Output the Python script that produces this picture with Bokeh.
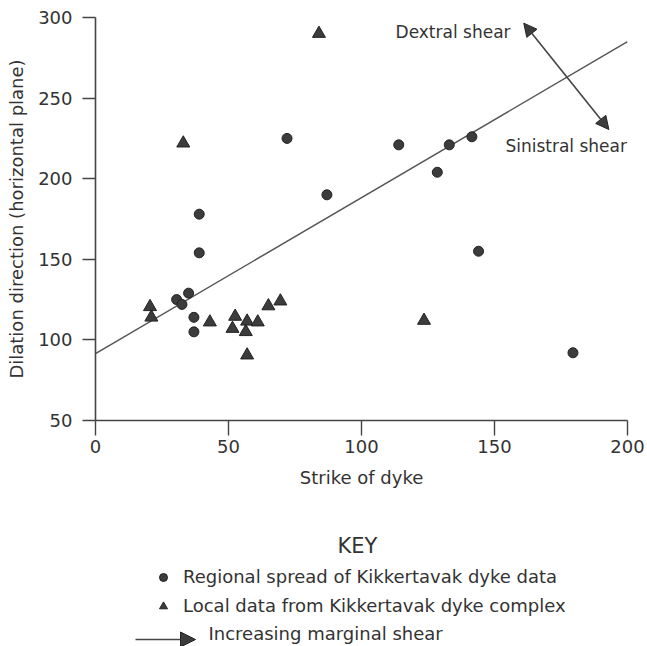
from bokeh.plotting import figure
from bokeh.layouts import column
from bokeh.models import (Range1d, Label, Arrow, NormalHead, Legend, LegendItem,
                          ColumnDataSource, FixedTicker)
from bokeh.embed import file_html
from bokeh.resources import INLINE

# ---------------- data ----------------
regional_strike = [72, 87, 39, 39, 30.5, 32.5, 35, 37, 37, 114, 133, 141.5, 128.5, 144, 179.5]
regional_dilation = [225, 190, 178, 154, 125, 122, 129, 114, 105, 221, 221, 226, 204, 155, 92]

local_strike = [84, 33, 20.5, 21, 43, 52.5, 51.5, 57, 56.5, 61, 57, 65, 69.5, 123.5]
local_dilation = [290, 222, 120.5, 114, 111, 114.5, 107, 111.5, 105, 111, 90.5, 121, 124, 112]

trend_strike = [0, 200]
trend_dilation = [91.5, 285]

shear_arrow_strike = [161, 193]
shear_arrow_dilation = [296.5, 230.5]

x_tick_values = [0, 50, 100, 150, 200]
y_tick_values = [50, 100, 150, 200, 250, 300]

x_label = "Strike of dyke"
y_label = "Dilation direction (horizontal plane)"
key_title = "KEY"
key_labels = ["Regional spread of Kikkertavak dyke data",
              "Local data from Kikkertavak dyke complex",
              "Increasing marginal shear"]

# ---------------- style ----------------
FONT = "DejaVu Sans"
TEXT = "#333333"
INK = "#3c3c3c"
EDGE = "#222222"
LEFT, RIGHT = 95, 20

p = figure(width=647, height=500,
           x_range=Range1d(0, 200), y_range=Range1d(50, 300),
           output_backend="svg", toolbar_location=None,
           min_border_left=LEFT, min_border_right=RIGHT,
           min_border_top=17, min_border_bottom=80)
p.grid.visible = False
p.outline_line_color = None
p.background_fill_color = "white"
p.border_fill_color = "white"

for ax in (p.xaxis[0], p.yaxis[0]):
    ax.axis_line_color = "#444444"
    ax.axis_line_width = 1.6
    ax.major_tick_line_color = "#444444"
    ax.major_tick_line_width = 1.4
    ax.minor_tick_line_color = None
    ax.major_tick_in = 0
    ax.major_label_text_font = FONT
    ax.major_label_text_font_size = "18px"
    ax.major_label_text_color = TEXT
    ax.axis_label_text_font = FONT
    ax.axis_label_text_font_size = "18px"
    ax.axis_label_text_font_style = "normal"
    ax.axis_label_text_color = TEXT

p.xaxis.ticker = FixedTicker(ticks=x_tick_values)
p.yaxis.ticker = FixedTicker(ticks=y_tick_values)
p.xaxis.major_tick_out = 15
p.xaxis.major_label_standoff = 4
p.xaxis.axis_label = x_label
p.xaxis.axis_label_standoff = 11
p.yaxis.major_tick_out = 13
p.yaxis.major_label_standoff = 10
p.yaxis.axis_label = y_label
p.yaxis.axis_label_standoff = 8

# trend line
p.line(trend_strike, trend_dilation, line_color="#555555", line_width=1.5)

# data points
reg_src = ColumnDataSource(dict(x=regional_strike, y=regional_dilation))
loc_src = ColumnDataSource(dict(x=local_strike, y=local_dilation))
circ_style = dict(marker="circle", size=10, fill_color=INK, line_color=EDGE, line_width=1)
tri_style = dict(marker="triangle", size=13, fill_color=INK, line_color=EDGE, line_width=1)
p.scatter("x", "y", source=reg_src, **circ_style)
p.scatter("x", "y", source=loc_src, **tri_style)

# shear arrow (double headed)
p.add_layout(Arrow(x_start=shear_arrow_strike[0], y_start=shear_arrow_dilation[0],
                   x_end=shear_arrow_strike[1], y_end=shear_arrow_dilation[1],
                   line_color="#444444", line_width=1.6,
                   start=NormalHead(size=13, fill_color=INK, line_color=EDGE, line_width=1),
                   end=NormalHead(size=13, fill_color=INK, line_color=EDGE, line_width=1)))

p.add_layout(Label(x=112.8, y=291.3, text="Dextral shear", text_font=FONT,
                   text_font_size="17px", text_color=TEXT,
                   text_align="left", text_baseline="middle"))
p.add_layout(Label(x=154.1, y=220.2, text="Sinistral shear", text_font=FONT,
                   text_font_size="17px", text_color=TEXT,
                   text_align="left", text_baseline="middle"))

# ---------------- key (separate panel below the chart) ----------------
# key panel uses page-pixel-like coordinates: x to the right, -y downward from its top
k = figure(width=647, height=146,
           x_range=Range1d(LEFT, 647 - RIGHT), y_range=Range1d(-146, 0),
           output_backend="svg", toolbar_location=None,
           x_axis_type=None, y_axis_type=None, min_border=0,
           min_border_left=LEFT, min_border_right=RIGHT)
k.grid.visible = False
k.outline_line_color = None
k.background_fill_color = "white"
k.border_fill_color = "white"

# same data drawn off-frame (positive y) so the legend can show its symbols
k_circ = k.scatter("x", "y", source=reg_src, **dict(circ_style, size=9))
k_tri = k.scatter("x", "y", source=loc_src, **dict(tri_style, size=12))

k.add_layout(Label(x=357, y=-45, text=key_title, text_font=FONT,
                   text_font_size="21px", text_color=TEXT,
                   text_align="center", text_baseline="middle"))

legend = Legend(items=[LegendItem(label=key_labels[0], renderers=[k_circ]),
                       LegendItem(label=key_labels[1], renderers=[k_tri])],
                location=(153 - LEFT, 30), orientation="vertical",
                glyph_width=20, glyph_height=20, label_height=20,
                label_standoff=10, spacing=8, padding=0, margin=0,
                border_line_color=None, background_fill_alpha=0,
                label_text_font=FONT, label_text_font_size="18px",
                label_text_color=TEXT)
k.add_layout(legend, "center")

k.add_layout(Arrow(x_start=135, y_start=-139, x_end=195, y_end=-139,
                   line_color="#444444", line_width=1.6,
                   end=NormalHead(size=15, fill_color=INK, line_color=EDGE, line_width=1)))
k.add_layout(Label(x=208, y=-133, text=key_labels[2], text_font=FONT,
                   text_font_size="18px", text_color=TEXT,
                   text_align="left", text_baseline="middle"))

layout = column(p, k, spacing=0)
open("out.html", "w").write(file_html(layout, INLINE))
